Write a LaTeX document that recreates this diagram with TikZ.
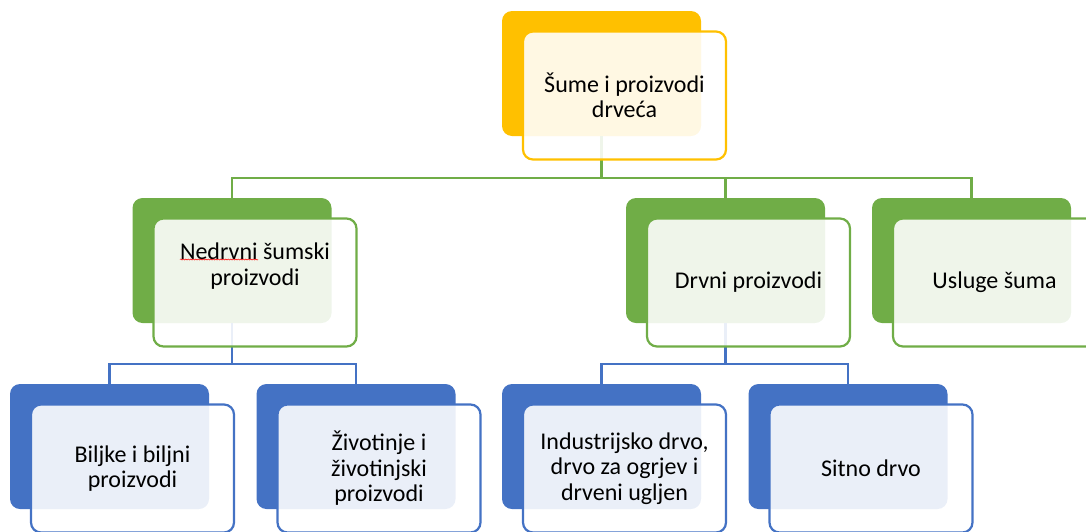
\documentclass[tikz,border=0pt]{standalone}
\usepackage{fontspec}
\setmainfont{Carlito}
\usepackage{xcolor}
\usepackage{tikz}
\usetikzlibrary{calc}
\usetikzlibrary{positioning}
\usetikzlibrary{decorations.pathmorphing}
\definecolor{zuta}{HTML}{FFC000}
\definecolor{zelena}{HTML}{70AD47}
\definecolor{plava}{HTML}{4472C4}
\tikzstyle{back} = [draw = none, rounded corners = 10, minimum width = 199, minimum height = 125, inner sep = 0]
\tikzstyle{front} = [line width = 2.2, rounded corners = 10, fill = white, fill opacity = 0.89, text opacity = 1, minimum width = 203, minimum height = 128, inner sep = 0, align = center, font = \fontsize{24}{25.5}\selectfont]
\tikzstyle{vezaz} = [-, line width = 2.2, draw = zelena]
\tikzstyle{vezap} = [-, line width = 2.2, draw = plava]

\begin{document}
\begin{tikzpicture}[x = 1pt, y = -1pt]
\useasboundingbox (0, 0) rectangle (1086, 531);
\clip (0, 0) rectangle (1086, 531);
\node [back, fill = zuta] (S) at (601.5, 73.5) {};
\node [back, fill = zelena] (N) at (232, 260.5) {};
\node [back, fill = zelena] (D) at (725.5, 260.5) {};
\node [back, fill = zelena] (U) at (971.5, 260.5) {};
\node [back, fill = plava] (B) at (109.5, 446.5) {};
\node [back, fill = plava] (Z) at (356, 446.5) {};
\node [back, fill = plava] (I) at (601.5, 446.5) {};
\node [back, fill = plava] (T) at (848, 446.5) {};
\draw [vezaz] (S.south) -- ++(0, 42) coordinate (J1);
\draw [vezaz] (N.north) |- (J1) -| (U.north);
\draw [vezaz] (J1 -| D.north) -- (D.north);
\draw [vezap] (N.south) -- ++(0, 41) coordinate (J2);
\draw [vezap] (B.north) |- (J2) -| (Z.north);
\draw [vezap] (D.south) -- ++(0, 41) coordinate (J3);
\draw [vezap] (I.north) |- (J3) -| (T.north);
\node [front, draw = zuta] (SF) at ($(S) + (23, 22)$) {Šume i proizvodi\\drveća};
\node [front, draw = zelena] (NF) at ($(N) + (23, 22)$) {Nedrvni šumski\\proizvodi\\[11pt]\mbox{}};
\node [front, draw = zelena] (DF) at ($(D) + (23, 22)$) {Drvni proizvodi};
\node [front, draw = zelena] (UF) at ($(U) + (23, 22)$) {Usluge šuma};
\node [front, draw = plava] (BF) at ($(B) + (23, 22)$) {Biljke i biljni\\proizvodi};
\node [front, draw = plava] (ZF) at ($(Z) + (23, 22)$) {Životinje i\\životinjski\\proizvodi};
\node [front, draw = plava] (IF) at ($(I) + (23, 22)$) {Industrijsko drvo,\\drvo za ogrjev i\\drveni ugljen};
\node [front, draw = plava] (TF) at ($(T) + (23, 22)$) {Sitno drvo};
\draw [red, line width = 0.5, decorate, decoration = {snake, amplitude = 0.6, segment length = 2.5}] ($(NF) + (-75, -23)$) -- ++(78, 0);
\end{tikzpicture}
\end{document}
